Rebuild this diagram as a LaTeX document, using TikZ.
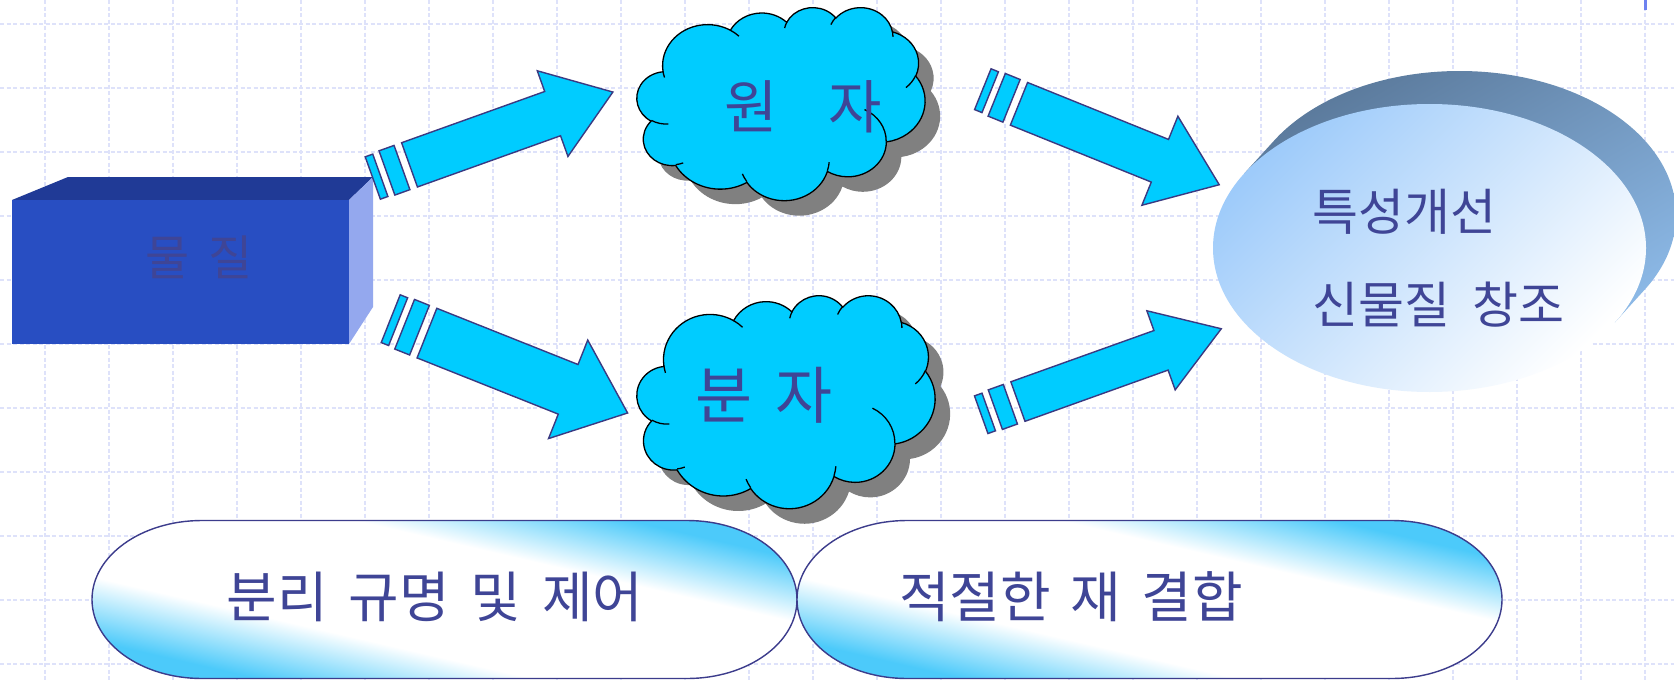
\documentclass[tikz,border=0pt]{standalone}
\usepackage{fontspec}
\newfontfamily\kr{Noto Sans CJK KR}
\usetikzlibrary{shapes.geometric}
\definecolor{gridc}{RGB}{222,226,250}
\definecolor{txtc}{RGB}{63,69,150}
\definecolor{cyanf}{RGB}{0,204,255}
\definecolor{arrowline}{RGB}{58,58,130}
\definecolor{boxfront}{RGB}{40,78,194}
\definecolor{boxtop}{RGB}{32,58,150}
\definecolor{boxside}{RGB}{148,168,238}
\definecolor{shadowc}{RGB}{128,128,128}
\definecolor{stblue}{RGB}{76,202,250}
\definecolor{stline}{RGB}{60,60,140}
\definecolor{backdark}{RGB}{91,122,156}
\definecolor{backlight}{RGB}{141,186,232}
\definecolor{frontblue}{RGB}{158,203,250}
\definecolor{markc}{RGB}{110,130,240}

\pgfdeclareverticalshading{stshade}{100bp}{color(0bp)=(stblue); color(27bp)=(stblue); color(39bp)=(white); color(61bp)=(white); color(73bp)=(stblue); color(100bp)=(stblue)}

% OOXML-style arc: wR, hR, visual start angle, visual sweep
\newcommand\oocalc[5]{%
  \pgfmathsetmacro\ooS{atan2((#2)*sin(#4),(#3)*cos(#4))}%
  \pgfmathsetmacro\ooE{atan2((#2)*sin((#4)+(#5)),(#3)*cos((#4)+(#5)))}%
  \pgfmathsetmacro\ooD{\ooE-\ooS}%
  \pgfmathsetmacro\ooD{ifthenelse(\ooD<0,\ooD+360,\ooD)}%
  \expandafter\xdef\csname cloudarc#1\endcsname{arc[start angle=\ooS, delta angle=\ooD, x radius=#2, y radius=#3]}%
}
\oocalc{A}{675.3}{919.0}{-190.48748}{123.78053}
\oocalc{B}{533.3}{726.7}{-144.10238}{89.94523}
\oocalc{C}{436.5}{594.5}{-145.80792}{99.72302}
\oocalc{D}{485.7}{659.5}{-130.98607}{117.24173}
\oocalc{E}{533.3}{727.3}{-78.70888}{109.02692}
\oocalc{F}{677.5}{922.0}{-46.26725}{130.269}
\oocalc{G}{578.5}{786.7}{0.62502}{114.03333}
\oocalc{H}{675.2}{921.5}{22.4516}{115.17255}
\oocalc{I}{772.0}{1054.3}{66.24263}{75.71102}
\oocalc{J}{436.0}{591.8}{-274.94208}{146.73557}
\oocalc{K}{434.5}{594.5}{-246.8285}{152.51885}
\oocalc{a}{434.5}{594.5}{86.742}{26.4295}
\oocalc{b}{436.0}{591.8}{73.61047}{11.44747}
\oocalc{c}{675.2}{921.5}{137.62415}{14.0811}
\oocalc{d}{675.2}{921.5}{6.45327}{15.99835}
\oocalc{e}{578.5}{786.7}{-70.29235}{70.91737}
\oocalc{f}{533.3}{727.3}{30.31803}{27.7515}
\oocalc{g}{485.7}{659.5}{-13.74433}{14.8589}
\oocalc{h}{485.7}{659.5}{-149.18145}{18.19537}
\oocalc{i}{436.5}{594.5}{-163.49427}{17.68635}
\oocalc{j}{675.3}{919.0}{-66.70695}{12.31935}
\oocalc{k}{675.3}{919.0}{157.65435}{11.85817}

\newcommand\cloudoutline{(390,1437) \cloudarcA \cloudarcB \cloudarcC \cloudarcD \cloudarcE \cloudarcF \cloudarcG \cloudarcH \cloudarcI \cloudarcJ \cloudarcK -- cycle}
\newcommand\cloudinner{(469.3,2617.7) \cloudarca (692.8,3489.9) \cloudarcb (1647.8,3909.0) \cloudarcc (2882.7,3475.1) \cloudarcd (3412.9,2295.4) \cloudarce (4179.8,1535.4) \cloudarcf (3832.4,542.6) \cloudarcg (2907.8,395.2) \cloudarch (2214.1,472.0) \cloudarci (1400.0,519.2) \cloudarcj (412.7,1578.9) \cloudarck}

\newcommand\drawcloud[4]{%
  \begin{scope}[shift={(#1+15,#2+15)}, x=#3pt, y=-#4pt]
    \fill[shadowc] \cloudoutline;
  \end{scope}
  \begin{scope}[shift={(#1,#2)}, x=#3pt, y=-#4pt]
    \filldraw[fill=cyanf, draw=black, line width=1.3pt] \cloudoutline;
    \draw[black, line width=1.3pt] \cloudinner;
  \end{scope}
}

\tikzset{
  gridline/.style={gridc, line width=1.3pt, dash pattern=on 4pt off 2.5pt},
  arrowsty/.style={fill=cyanf, draw=arrowline, line width=1.4pt, line join=miter},
  stadium/.style={draw=stline, line width=1.4pt, shading=stshade, shading angle=-13},
  krtext/.style={text=txtc, inner sep=0pt},
  pics/stripearrow/.style 2 args={code={
    \filldraw[arrowsty] (0,-#1+1) rectangle (8,#1-1);
    \filldraw[arrowsty] (15,-#1) rectangle (31,#1);
    \filldraw[arrowsty] (39,-#1) -- (191,-#1) -- (191,-#2) -- (255,0) -- (191,#2) -- (191,#1) -- (39,#1) -- cycle;
  }}
}

\begin{document}
\begin{tikzpicture}[x=1pt, y=-1pt]
\useasboundingbox (0,0) rectangle (1674,680);
\fill[white] (0,0) rectangle (1674,680);

% grid
\foreach \i in {0,...,25} \draw[gridline] (45+64*\i,0) -- (45+64*\i,680);
\foreach \j in {0,...,10} \draw[gridline] (0,24+64*\j) -- (1674,24+64*\j);
\draw[markc, line width=2.5pt] (1645.7,0) -- (1645.7,9.5);

% box
\fill[boxtop] (12,200) -- (68,177) -- (373,177) -- (349,200) -- cycle;
\fill[boxside] (349,200) -- (373,177) -- (373,307) -- (349,344) -- cycle;
\fill[boxfront] (12,200) rectangle (349,344);
\node[krtext, font={\kr\fontsize{48}{52}\selectfont}] (matter) at (199,257) {\spaceskip=18pt\relax 물 질};

% bottom stadiums
\path[stadium] (202,520.5) -- (687,520.5) arc[start angle=90, end angle=-90, x radius=110pt, y radius=79pt] -- (202,678.5) arc[start angle=-90, end angle=-270, x radius=110pt, y radius=79pt] -- cycle;
\path[stadium] (907,520.5) -- (1392,520.5) arc[start angle=90, end angle=-90, x radius=110pt, y radius=79pt] -- (907,678.5) arc[start angle=-90, end angle=-270, x radius=110pt, y radius=79pt] -- cycle;
\node[krtext, font={\kr\fontsize{55}{58}\selectfont}] (separate) at (435,596.5) {\spaceskip=21pt\relax 분리 규명 및 제어};
\node[krtext, font={\kr\fontsize{55}{58}\selectfont}] (recombine) at (1071,596.5) {\spaceskip=20pt\relax 적절한 재 결합};

% result ellipse
\shade[top color=backdark, bottom color=backlight, shading angle=30]
  (1459.5,215) ellipse [x radius=216.5pt, y radius=144pt]
  (1614.8,322.5) -- (1644.8,289.5) -- (1274.2,140.5) -- (1244.2,173.5) -- cycle;
\node[ellipse, minimum width=433pt, minimum height=288pt, inner sep=0pt, top color=frontblue, bottom color=white, shading angle=45] (result) at (1429.5,248) {};
\node[krtext, anchor=west, font={\kr\fontsize{50}{54}\selectfont}] (improve) at (1312,212) {특성개선};
\node[krtext, anchor=west, font={\kr\fontsize{50}{54}\selectfont}] (create) at (1312,305) {\spaceskip=22pt\relax 신물질 창조};

% clouds
\drawcloud{637}{7}{0.066667}{0.044676}
\coordinate (atomcloud) at (781,103);
\node[krtext, font={\kr\fontsize{58}{62}\selectfont}] (atom) at (803,107) {\spaceskip=51pt\relax 원 자};
\drawcloud{637}{295}{0.068981}{0.049306}
\coordinate (molcloud) at (786,401);
\node[krtext, font={\kr\fontsize{62}{66}\selectfont}] (molecule) at (764,395) {\spaceskip=23pt\relax 분 자};

% block arrows
\pic (arrA) [rotate=19.7] at (372.8,178) {stripearrow={23.5}{45.5}};
\pic (arrB) [rotate=-21.7] at (390.7,318.7) {stripearrow={26.7}{53}};
\pic (arrC) [rotate=-22] at (982.8,89.2) {stripearrow={23}{48}};
\pic (arrD) [rotate=19.7] at (981.2,414.7) {stripearrow={21}{42}};
\end{tikzpicture}
\end{document}
